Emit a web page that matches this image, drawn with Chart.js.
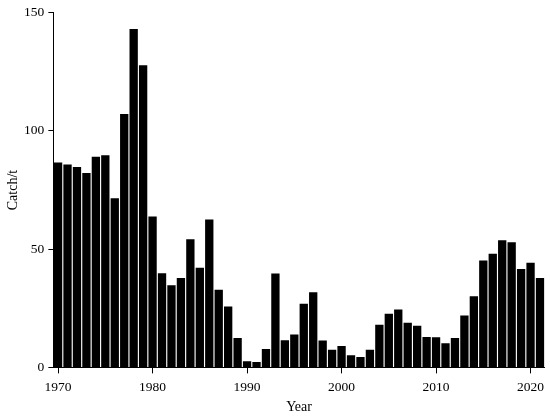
<!DOCTYPE html>
<html>
<head>
<meta charset="utf-8">
<script src="https://cdn.jsdelivr.net/npm/chart.js@4/dist/chart.umd.min.js"></script>
<style>
  html, body { margin: 0; padding: 0; background: #fff; }
  #wrap { width: 550px; height: 420px; position: relative; }
</style>
</head>
<body>
<div id="wrap"><canvas id="c"></canvas></div>
<script>
const years = [];
for (let y = 1970; y <= 2021; y++) years.push(String(y));

const catchValues = [
  86.6, 85.7, 84.7, 82.2, 89.0, 89.7, 71.5, 107.0, 142.9, 127.6,
  63.8, 39.9, 34.8, 37.9, 54.2, 42.2, 62.6, 32.9, 25.9, 12.6,
  2.8, 2.5, 8.0, 39.8, 11.7, 14.1, 27.0, 31.9, 11.5, 7.7,
  9.2, 5.3, 4.6, 7.7, 18.2, 22.8, 24.6, 19.0, 17.8, 13.0,
  12.9, 10.4, 12.6, 22.1, 30.2, 45.3, 48.1, 53.8, 53.0, 41.7,
  44.3, 37.9
];

const xTickYears = ['1970', '1980', '1990', '2000', '2010', '2020'];
const yTicks = [0, 50, 100, 150];

const font = { family: 'Liberation Serif', size: 13.5 };

new Chart(document.getElementById('c'), {
  type: 'bar',
  data: {
    labels: years,
    datasets: [{
      data: catchValues,
      backgroundColor: '#000',
      borderWidth: 0,
      barPercentage: 0.88,
      categoryPercentage: 1.0
    }]
  },
  options: {
    responsive: true,
    maintainAspectRatio: false,
    animation: false,
    layout: { padding: { top: -2.5, right: 5, left: 5.3, bottom: 4.5 } },
    plugins: { legend: { display: false }, tooltip: { enabled: false } },
    scales: {
      x: {
        offset: true,
        grid: { display: true, drawOnChartArea: false, offset: false, tickLength: 5.5, color: '#000', lineWidth: 1 },
        border: { color: '#000', width: 1 },
        ticks: {
          autoSkip: false,
          maxRotation: 0,
          padding: 5.8,
          color: '#000',
          font: font,
          callback: function (value) {
            const lab = this.getLabelForValue(value);
            return xTickYears.includes(lab) ? lab : null;
          }
        },
        title: { display: true, text: 'Year', color: '#000', font: { family: 'Liberation Serif', size: 14 }, padding: { top: -2.5, bottom: 0 } }
      },
      y: {
        min: 0,
        max: 150,
        afterBuildTicks: function (axis) { axis.ticks = yTicks.map(v => ({ value: v })); },
        grid: { display: true, drawOnChartArea: false, tickLength: 5, color: '#000', lineWidth: 1 },
        border: { color: '#000', width: 1 },
        ticks: { padding: 4, color: '#000', font: font },
        title: { display: true, text: 'Catch/t', color: '#000', font: { family: 'Liberation Serif', size: 14 }, padding: { top: 0, bottom: -2 } }
      }
    }
  }
});
</script>
</body>
</html>
